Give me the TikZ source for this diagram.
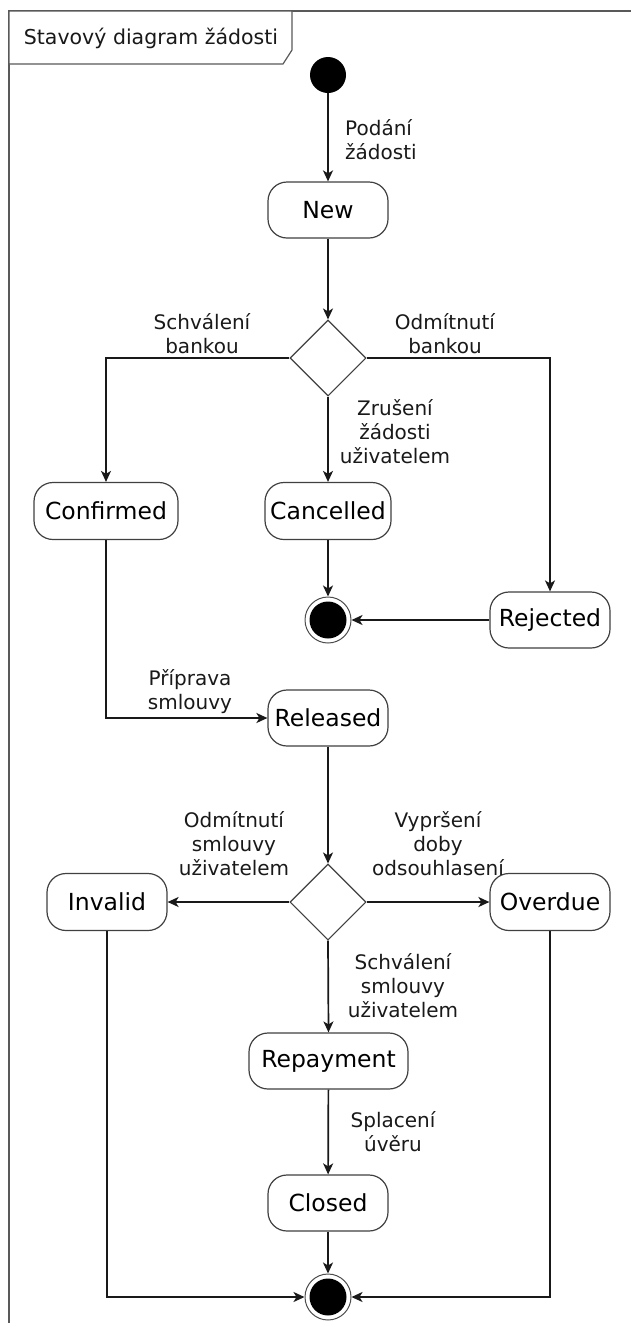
\documentclass[tikz,border=0pt]{standalone}
\usepackage{fontspec}
\setmainfont{DejaVu Sans}
\usetikzlibrary{arrows.meta,shapes.geometric}
\begin{document}
\begin{tikzpicture}[x=1pt,y=-1pt,
  state/.style={draw=black!75, line width=1.2pt, rounded corners=19pt, fill=white,
    minimum height=56pt, minimum width=120pt, inner sep=0pt,
    font=\fontsize{23.5}{27}\selectfont},
  choice/.style={diamond, draw=black!75, line width=1.1pt, fill=white,
    minimum width=76pt, minimum height=76pt, inner sep=0pt},
  lbl/.style={align=center, inner sep=0pt, text=black!90,
    font=\fontsize{20}{24}\selectfont},
  flow/.style={draw=black!90, line width=1.7pt,
    -{Stealth[length=11pt,width=10pt,inset=3pt]}},
  startdot/.style={circle, fill=black, minimum size=36pt, inner sep=0pt},
  enddot/.style={circle, draw=black!70, line width=1pt, fill=white,
    minimum size=46pt, inner sep=0pt,
    path picture={\fill[black] (path picture bounding box.center) circle (18.5pt);}},
  frameline/.style={draw=black!65, line width=1.2pt}
]
\useasboundingbox (0,0) rectangle (630,1323);

% diagram frame and its name tab
\draw[frameline] (9,1330) -- (9,11) -- (640,11);
\draw[frameline, fill=white] (9,11) -- (292,11) -- (292,50) -- (283,64) -- (9,64) -- cycle;
\node[lbl, font=\fontsize{20.5}{24}\selectfont] (title) at (151,38) {Stavový diagram žádosti};

% states
\node[startdot] (init) at (328,75) {};
\node[state] (new) at (328,210) {New};
\node[choice] (d1) at (328,358) {};
\node[state, minimum width=144pt, minimum height=57pt] (confirmed) at (106,511) {Confirmed};
\node[state, minimum width=126pt, minimum height=57pt] (cancelled) at (328,511) {Cancelled};
\node[state] (rejected) at (550,620) {Rejected};
\node[enddot] (end1) at (328,620) {};
\node[state] (released) at (328,718) {Released};
\node[choice] (d2) at (328,902) {};
\node[state, minimum height=57pt] (invalid) at (107,902) {Invalid};
\node[state, minimum height=57pt] (overdue) at (550,902) {Overdue};
\node[state, minimum width=159pt] (repayment) at (328.5,1061) {Repayment};
\node[state] (closed) at (328,1203) {Closed};
\node[enddot] (end2) at (328,1297) {};

% transitions
\draw[flow] (init) -- (new);
\draw[flow] (new) -- (d1);
\draw[flow] (d1.west) -| (confirmed.north);
\draw[flow] (d1.east) -| (rejected.north);
\draw[flow] (d1.south) -- (cancelled.north);
\draw[flow] (cancelled) -- (end1);
\draw[flow] (rejected) -- (end1);
\draw[flow] (confirmed.south) |- (released.west);
\draw[flow] (released) -- (d2);
\draw[flow] (d2.west) -- (invalid.east);
\draw[flow] (d2.east) -- (overdue.west);
\draw[flow] (d2.south) -- (repayment.north);
\draw[flow] (repayment) -- (closed);
\draw[flow] (closed) -- (end2);
\draw[flow] (invalid.south) |- (end2.west);
\draw[flow] (overdue.south) |- (end2.east);

% transition labels
\node[lbl, align=left, anchor=west] (lpodani) at (345,140) {Podání\\žádosti};
\node[lbl] (lschval) at (202,334) {Schválení\\bankou};
\node[lbl] (lodmit) at (445,334) {Odmítnutí\\bankou};
\node[lbl] (lzrus) at (395,432) {Zrušení\\žádosti\\uživatelem};
\node[lbl] (lpripr) at (190,692) {Příprava\\smlouvy};
\node[lbl] (lodmits) at (234,844) {Odmítnutí\\smlouvy\\uživatelem};
\node[lbl] (lvypr) at (438,844) {Vypršení\\doby\\odsouhlasení};
\node[lbl] (lschvs) at (403,986) {Schválení\\smlouvy\\uživatelem};
\node[lbl] (lsplac) at (393,1132) {Splacení\\úvěru};
\end{tikzpicture}
\end{document}
